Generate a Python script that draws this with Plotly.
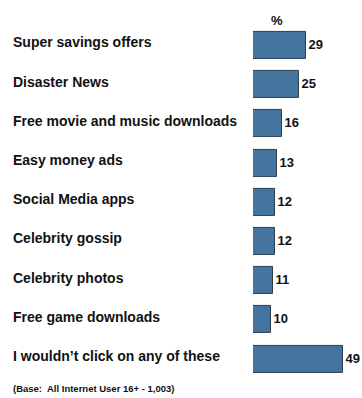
import plotly.graph_objects as go

categories = [
    "Super savings offers",
    "Disaster News",
    "Free movie and music downloads",
    "Easy money ads",
    "Social Media apps",
    "Celebrity gossip",
    "Celebrity photos",
    "Free game downloads",
    "I wouldn\u2019t click on any of these",
]
values = [29, 25, 16, 13, 12, 12, 11, 10, 49]
unit_label = "%"
footnote = "(Base:  All Internet User 16+ - 1,003)"

W, H = 362, 398
FONT = "Liberation Sans, Arial, sans-serif"

# pixel layout
x0_px = 253.0
px_per_unit = 90.0 / 49.0
xmax = 59.0
x_end_px = x0_px + xmax * px_per_unit
top_center, bot_center = 45.5, 359.0
step = (bot_center - top_center) / (len(categories) - 1)
y_top_px = top_center - step / 2
y_bot_px = bot_center + step / 2

ypos = list(range(len(categories)))

fig = go.Figure()
fig.add_trace(go.Bar(
    x=values,
    y=ypos,
    orientation="h",
    width=27.0 / step,
    marker=dict(color="#44759f", line=dict(color="#2a3e52", width=1)),
    text=[str(v) for v in values],
    textposition="outside",
    textfont=dict(family=FONT, size=13, color="#111111", weight="bold"),
    cliponaxis=False,
    hoverinfo="skip",
))

annotations = []
for i, c in enumerate(categories):
    annotations.append(dict(
        text="<b>%s</b>" % c, x=10.5 / W, xref="paper", xanchor="left",
        y=i, yref="y", yanchor="middle", yshift=3, showarrow=False,
        font=dict(family=FONT, size=14, color="#111111"),
    ))
annotations.append(dict(
    text="<b>%s</b>" % unit_label, x=277 / W, xref="paper", xanchor="center",
    y=1 - 20 / H, yref="paper", yanchor="middle", showarrow=False,
    font=dict(family=FONT, size=13, color="#111111"),
))
annotations.append(dict(
    text="<b>%s</b>" % footnote, x=11 / W, xref="paper", xanchor="left",
    y=1 - 388 / H, yref="paper", yanchor="middle", showarrow=False,
    font=dict(family=FONT, size=9.5, color="#111111"),
))

fig.update_layout(
    width=W, height=H,
    margin=dict(l=0, r=0, t=0, b=0),
    paper_bgcolor="white", plot_bgcolor="white",
    showlegend=False,
    annotations=annotations,
    xaxis=dict(range=[0, xmax], domain=[x0_px / W, x_end_px / W],
               visible=False, fixedrange=True),
    yaxis=dict(range=[len(categories) - 0.5, -0.5],
               domain=[1 - y_bot_px / H, 1 - y_top_px / H],
               visible=False, fixedrange=True),
    bargap=0,
)

fig.write_html("out.html", config={"displayModeBar": False})
